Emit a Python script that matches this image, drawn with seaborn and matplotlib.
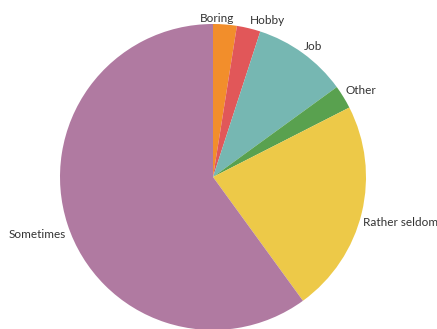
import matplotlib
matplotlib.use("Agg")
import matplotlib.pyplot as plt
import seaborn as sns

# Answer counts per category
categories = ["Boring", "Hobby", "Job", "Other", "Rather seldom", "Sometimes"]
counts = [1, 1, 4, 1, 9, 24]

sns.set_theme(style="white")
plt.rcParams["font.family"] = ["Lato", "DejaVu Sans"]

colors = ["#F28E2B", "#E15759", "#76B7B2", "#59A14F", "#EDC948", "#B07AA1"]

W, H = 437, 329
fig = plt.figure(figsize=(W / 100, H / 100), dpi=100)
ax = fig.add_axes([0, 0, 1, 1])

cx, cy, r = 213, H - 177, 153
wedges, _ = ax.pie(counts, colors=colors, startangle=90, counterclock=False,
                   center=(cx, cy), radius=r, frame=False,
                   wedgeprops=dict(linewidth=0))
ax.set_xlim(0, W)
ax.set_ylim(0, H)
ax.set_aspect("equal")
ax.axis("off")

# label placement (pixel coordinates from the top-left, alignment)
label_pos = {
    "Boring": (217, 18, "center"),
    "Hobby": (250, 21, "left"),
    "Job": (304, 46, "left"),
    "Other": (345, 90, "left"),
    "Rather seldom": (363, 223, "left"),
    "Sometimes": (66, 235, "right"),
}
for name in categories:
    x, y, ha = label_pos[name]
    ax.text(x, H - y, name, ha=ha, va="center", fontsize=8.5, color="#333333")

fig.savefig("out.png", dpi=100)
